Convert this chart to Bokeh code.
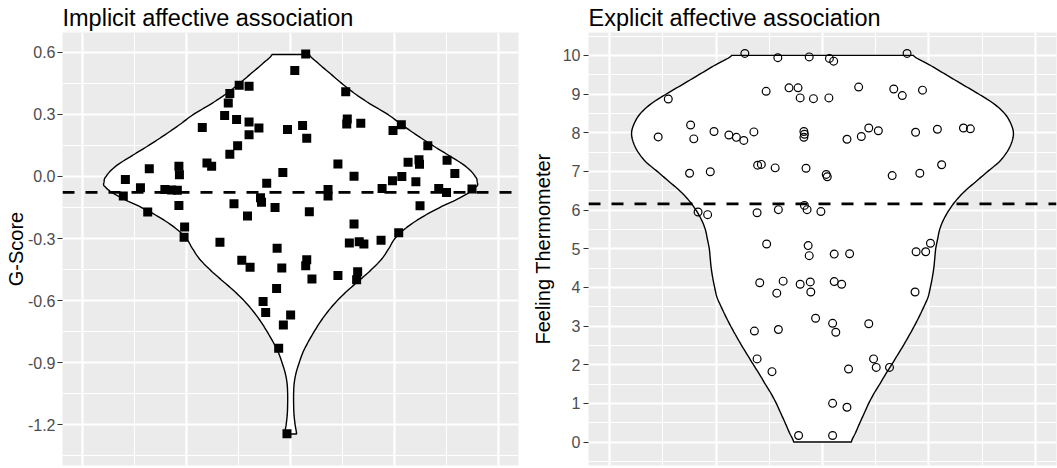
import numpy as np
from bokeh.plotting import figure
from bokeh.layouts import row
from bokeh.models import Range1d, FixedTicker, Span, NumeralTickFormatter
from bokeh.embed import file_html
from bokeh.resources import INLINE

FONT = "Liberation Sans"

# ---------------- data: implicit panel (G-Score) ----------------
implicit_title = "Implicit affective association"
implicit_ylabel = "G-Score"
implicit_mean = -0.077
implicit_ticks = [-1.2, -0.9, -0.6, -0.3, 0.0, 0.3, 0.6]
implicit_minor = [-1.35, -1.05, -0.75, -0.45, -0.15, 0.15, 0.45]

implicit_jitter = [-0.099, -0.080, -0.117, -0.120, -0.127, -0.104, -0.080, -0.061, -0.170, -0.006,
                   -0.080, -0.102, -0.117, -0.161, -0.152, -0.272, -0.215, -0.214, -0.015, -0.318,
                   -0.289, -0.322, -0.242, -0.229, -0.218, -0.046, -0.058, -0.056, -0.030, -0.109,
                   -0.215, -0.083, -0.275, -0.204, -0.205, -0.136, -0.026, 0.029, 0.008, 0.106,
                   0.213, 0.197, 0.109, 0.108, 0.135, 0.023, 0.031, 0.264, 0.301, 0.247,
                   0.248, 0.226, 0.091, 0.316, 0.122, 0.214, 0.196, 0.241, 0.176, 0.072,
                   0.072, 0.285, 0.300, 0.349, 0.249, 0.036, 0.122, 0.208, 0.113, 0.132,
                   0.141, 0.174, -0.094, -0.078, -0.017, -0.027, 0.031, 0.029, 0.041, 0.091,
                   0.129, 0.127, -0.053, -0.048, 0.000, -0.014, -0.023, -0.007]
implicit_score = [0.441, 0.436, 0.401, 0.355, 0.295, 0.276, 0.263, 0.234, 0.237, 0.227,
                  0.202, 0.148, 0.108, 0.065, 0.049, 0.038, 0.049, 0.009, 0.019, -0.014,
                  -0.054, -0.094, -0.063, -0.065, -0.066, -0.033, -0.103, -0.124, -0.150, -0.132,
                  -0.140, -0.191, -0.172, -0.244, -0.294, -0.318, -0.347, 0.592, 0.512, 0.410,
                  0.250, 0.222, 0.278, 0.254, 0.257, 0.247, 0.185, 0.148, 0.078, 0.081,
                  0.059, 0.069, 0.060, 0.015, 0.001, 0.000, -0.020, -0.026, -0.058, -0.063,
                  -0.094, -0.058, -0.077, -0.061, -0.142, -0.171, -0.230, -0.272, -0.322, -0.316,
                  -0.326, -0.308, -0.405, -0.439, -0.442, -0.541, -0.402, -0.431, -0.495, -0.478,
                  -0.460, -0.499, -0.604, -0.658, -0.669, -0.718, -0.830, -1.244]

# violin density profile (relative width)
implicit_violin_y = [0.59, 0.55, 0.50, 0.45, 0.40, 0.35, 0.30, 0.25, 0.20, 0.15, 0.10, 0.05, 0.00,
                     -0.025, -0.05, -0.10, -0.15, -0.20, -0.25, -0.30, -0.35, -0.40, -0.45, -0.50,
                     -0.55, -0.60, -0.65, -0.70, -0.75, -0.80, -0.85, -0.90, -0.95, -1.00, -1.05,
                     -1.10, -1.15, -1.20, -1.245]
implicit_violin_density = [0.099, 0.145, 0.209, 0.274, 0.345, 0.428, 0.521, 0.596, 0.676, 0.761,
                           0.851, 0.937, 0.989, 1.000, 0.994, 0.914, 0.799, 0.698, 0.617, 0.559,
                           0.525, 0.487, 0.433, 0.371, 0.307, 0.250, 0.202, 0.161, 0.126, 0.094,
                           0.066, 0.046, 0.029, 0.019, 0.016, 0.016, 0.018, 0.024, 0.032]

# ---------------- data: explicit panel (Feeling Thermometer) ----------------
explicit_title = "Explicit affective association"
explicit_ylabel = "Feeling Thermometer"
explicit_mean = 6.16
explicit_ticks = [0, 1, 2, 3, 4, 5, 6, 7, 8, 9, 10]
explicit_minor = [-0.5, 0.5, 1.5, 2.5, 3.5, 4.5, 5.5, 6.5, 7.5, 8.5, 9.5, 10.5]

explicit_jitter = [-0.146, -0.084, -0.025, 0.013, 0.021, 0.159, -0.290, -0.106, -0.063, -0.046,
                   -0.042, -0.017, 0.012, 0.068, 0.134, 0.150, 0.188, -0.309, -0.248, -0.242,
                   -0.204, -0.176, -0.162, -0.148, -0.129, -0.035, -0.034, -0.035, 0.046, 0.073,
                   0.087, 0.105, 0.175, 0.216, 0.265, 0.278, -0.250, -0.211, -0.122, -0.115,
                   -0.089, -0.031, 0.007, 0.009, 0.131, 0.183, 0.224, -0.234, -0.216, -0.123,
                   -0.083, -0.034, -0.029, -0.003, -0.105, -0.027, -0.025, 0.022, 0.051, 0.176,
                   0.194, 0.203, -0.118, -0.074, -0.086, -0.042, -0.023, -0.022, 0.022, 0.036,
                   0.174, -0.013, -0.128, -0.083, 0.019, 0.025, 0.087, -0.123, -0.095, 0.096,
                   0.101, 0.126, 0.049, 0.019, 0.046, -0.045, 0.019]
explicit_rating = [10.05, 9.94, 9.96, 9.92, 9.85, 10.05, 8.87, 9.07, 9.16, 9.16,
                   8.90, 8.88, 8.90, 9.18, 9.13, 8.96, 9.10, 7.89, 8.20, 7.84,
                   8.03, 7.94, 7.88, 7.80, 8.02, 8.03, 7.96, 7.88, 7.83, 7.90,
                   8.12, 8.05, 8.01, 8.09, 8.12, 8.10, 6.95, 6.99, 7.16, 7.18,
                   7.09, 7.08, 6.92, 6.86, 6.89, 6.95, 7.17, 5.95, 5.88, 5.93,
                   6.01, 6.12, 6.01, 5.96, 5.12, 5.08, 4.82, 4.86, 4.87, 4.92,
                   4.92, 5.14, 4.12, 4.16, 3.85, 4.08, 4.14, 3.88, 4.15, 4.08,
                   3.88, 3.20, 2.87, 2.91, 3.07, 2.84, 3.06, 2.15, 1.82, 2.15,
                   1.93, 1.93, 1.89, 1.00, 0.90, 0.17, 0.17]

explicit_violin_y = [10.0, 9.75, 9.5, 9.25, 9.0, 8.75, 8.5, 8.25, 8.0, 7.75, 7.5, 7.25, 7.0,
                     6.75, 6.5, 6.25, 6.0, 5.75, 5.5, 5.25, 5.0, 4.75, 4.5, 4.25, 4.0, 3.75,
                     3.5, 3.25, 3.0, 2.75, 2.5, 2.25, 2.0, 1.75, 1.5, 1.25, 1.0, 0.75, 0.5,
                     0.25, 0.0]
explicit_violin_density = [0.475, 0.562, 0.647, 0.732, 0.818, 0.897, 0.953, 0.985, 1.000, 0.991,
                           0.966, 0.926, 0.866, 0.807, 0.748, 0.700, 0.663, 0.634, 0.614, 0.603,
                           0.593, 0.588, 0.583, 0.575, 0.565, 0.553, 0.531, 0.507, 0.481, 0.453,
                           0.424, 0.393, 0.362, 0.330, 0.300, 0.269, 0.242, 0.219, 0.196, 0.174,
                           0.151]

VIOLIN_HALF_WIDTH = 0.359


def smooth_profile(ys, ds, n=10):
    ys = list(ys)
    ds = list(ds)
    m = len(ys)
    out_y, out_d = [], []
    for i in range(m - 1):
        p0 = ds[max(i - 1, 0)]
        p1 = ds[i]
        p2 = ds[i + 1]
        p3 = ds[min(i + 2, m - 1)]
        for t in np.linspace(0, 1, n, endpoint=False):
            d = 0.5 * (2 * p1 + (-p0 + p2) * t + (2 * p0 - 5 * p1 + 4 * p2 - p3) * t * t
                       + (-p0 + 3 * p1 - 3 * p2 + p3) * t ** 3)
            out_y.append(ys[i] + (ys[i + 1] - ys[i]) * t)
            out_d.append(max(d, 0.0))
    out_y.append(ys[-1])
    out_d.append(ds[-1])
    return np.array(out_y), np.array(out_d)


def style_fig(p, ticks, minor, fmt, label, label_standoff):
    p.background_fill_color = "#EBEBEB"
    p.border_fill_color = "white"
    p.outline_line_color = None

    yt = FixedTicker(ticks=ticks, minor_ticks=minor)
    xt = FixedTicker(ticks=[-0.4, -0.2, 0.0, 0.2, 0.4], minor_ticks=[-0.3, -0.1, 0.1, 0.3])
    p.yaxis.ticker = yt
    p.ygrid.ticker = yt
    p.xgrid.ticker = xt
    for g in (p.xgrid, p.ygrid):
        g.grid_line_color = "white"
        g.grid_line_width = 2.2
        g.minor_grid_line_color = "white"
        g.minor_grid_line_width = 1.1

    ax = p.yaxis[0]
    ax.formatter = NumeralTickFormatter(format=fmt)
    ax.axis_label = label
    ax.axis_label_text_font = FONT
    ax.axis_label_text_font_size = "20px"
    ax.axis_label_text_font_style = "normal"
    ax.axis_label_text_color = "black"
    ax.axis_label_standoff = label_standoff
    ax.major_label_text_font = FONT
    ax.major_label_text_font_size = "16px"
    ax.major_label_text_color = "#4D4D4D"
    ax.major_label_standoff = 3
    ax.major_tick_out = 5
    ax.major_tick_in = 0
    ax.minor_tick_out = 0
    ax.minor_tick_in = 0
    ax.major_tick_line_color = "#333333"
    ax.major_tick_line_width = 1.1
    ax.axis_line_color = None

    p.title.text_font = FONT
    p.title.text_font_size = "23.5px"
    p.title.text_font_style = "normal"
    p.title.text_color = "black"
    p.title.align = "left"
    p.title.offset = 0
    p.title.standoff = 4


def violin(p, ys, ds, color="white"):
    vy, vd = smooth_profile(ys, ds)
    hw = vd * VIOLIN_HALF_WIDTH
    xs = np.concatenate([-hw, hw[::-1]])
    yy = np.concatenate([vy, vy[::-1]])
    p.patch(xs, yy, fill_color=color, line_color="black", line_width=1.4)


# ---------------- left figure ----------------
p1 = figure(width=528, height=468, title=implicit_title,
            x_range=Range1d(-0.439, 0.4385), y_range=Range1d(-1.397, 0.696),
            x_axis_location=None, toolbar_location=None, output_backend="svg",
            min_border_left=62, min_border_right=10, min_border_top=0, min_border_bottom=3)
style_fig(p1, implicit_ticks, implicit_minor, "0.0", implicit_ylabel, -2)
p1.yaxis[0].major_label_standoff = 2
violin(p1, implicit_violin_y, implicit_violin_density)
p1.scatter(implicit_jitter, implicit_score, marker="square", size=9,
           fill_color="black", line_color=None)
p1.add_layout(Span(location=implicit_mean, dimension="width", line_color="black",
                   line_dash="12 11", line_width=2.8))

# ---------------- right figure ----------------
p2 = figure(width=529, height=468, title=explicit_title,
            x_range=Range1d(-0.44, 0.44), y_range=Range1d(-0.607, 10.591),
            x_axis_location=None, toolbar_location=None, output_backend="svg",
            min_border_left=60, min_border_right=1, min_border_top=0, min_border_bottom=3)
style_fig(p2, explicit_ticks, explicit_minor, "0", explicit_ylabel, 6)
violin(p2, explicit_violin_y, explicit_violin_density)
p2.scatter(explicit_jitter, explicit_rating, marker="circle", size=7.8,
           fill_alpha=0, line_color="black", line_width=1.2)
p2.add_layout(Span(location=explicit_mean, dimension="width", line_color="black",
                   line_dash="12 11", line_width=2.8))

layout = row(p1, p2)
open("out.html", "w").write(file_html(layout, INLINE))
